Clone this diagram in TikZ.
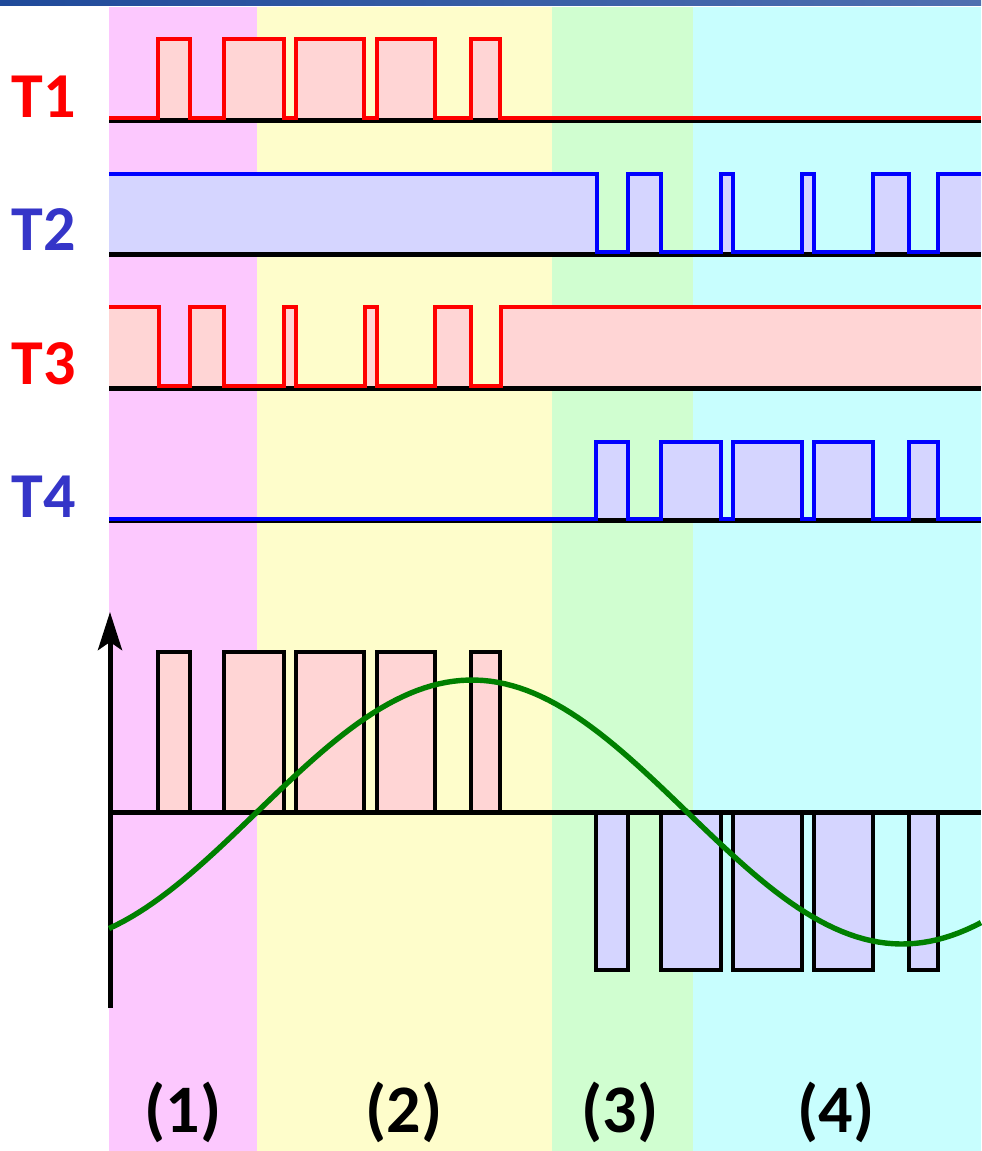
\documentclass[tikz,border=0pt]{standalone}
\usepackage{fontspec}
\setmainfont{Carlito}
\usepackage{amsmath}
\usetikzlibrary{arrows.meta}

\definecolor{barleft}{HTML}{1F4A9A}
\definecolor{barright}{HTML}{5070B0}
\definecolor{bandone}{HTML}{FCC8FE}
\definecolor{bandtwo}{HTML}{FEFDCB}
\definecolor{bandthree}{HTML}{D0FED0}
\definecolor{bandfour}{HTML}{C8FEFE}
\definecolor{pulsered}{HTML}{FFD5D5}
\definecolor{pulseblue}{HTML}{D5D5FF}
\definecolor{labelblue}{HTML}{3535C8}
\definecolor{wavegreen}{HTML}{008000}

\begin{document}
\begin{tikzpicture}[x=0.5pt,y=-0.5pt,
    zeroline/.style={line width=2.5pt,black},
    trace/.style={line width=2.1pt},
    tlabel/.style={font=\bfseries\fontsize{32}{32}\selectfont},
    seglabel/.style={font=\bfseries\fontsize{34}{34}\selectfont,text=black}]
        \useasboundingbox (0,0) rectangle (981,1151);
        \shade[left color=barleft,right color=barright] (0,0) rectangle (981,5); % title bar
        \fill[bandone] (109,7) rectangle (257,1151); % interval (1)
        \fill[bandtwo] (257,7) rectangle (552,1151); % interval (2)
        \fill[bandthree] (552,7) rectangle (693,1151); % interval (3)
        \fill[bandfour] (693,7) rectangle (981,1151); % interval (4)

        % T1
        \fill[pulsered] (158,39) rectangle (190,119) (224,39) rectangle (284,119)
        (296,39) rectangle (364,119) (377,39) rectangle (435,119) (471,39) rectangle (500,119);
        \draw[zeroline] (109,120) -- (981,120);
        \draw[trace,red] (109,118) -| (158,39) -| (190,118) -| (224,39) -| (284,118)
        -| (296,39) -| (364,118) -| (377,39) -| (435,118) -| (471,39) -| (500,118) -- (981,118);
        \node[tlabel,text=red] (labT1) at (44,97) {T1};

        % T2
        \fill[pulseblue] (109,174) rectangle (597,253) (628,174) rectangle (661,253)
        (721,174) rectangle (733,253) (802,174) rectangle (814,253)
        (873,174) rectangle (909,253) (938,174) rectangle (981,253);
        \draw[zeroline] (109,254) -- (981,254);
        \draw[trace,blue] (109,174) -| (597,252) -| (628,174) -| (661,252) -| (721,174)
        -| (733,252) -| (802,174) -| (814,252) -| (873,174) -| (909,252) -| (938,174) -- (981,174);
        \node[tlabel,text=labelblue] (labT2) at (44,230) {T2};

        % T3
        \fill[pulsered] (109,307) rectangle (159,387) (190,307) rectangle (224,387)
        (284,307) rectangle (296,387) (365,307) rectangle (377,387)
        (435,307) rectangle (471,387) (501,307) rectangle (981,387);
        \draw[zeroline] (109,388) -- (981,388);
        \draw[trace,red] (109,307) -| (159,386) -| (190,307) -| (224,386) -| (284,307)
        -| (296,386) -| (365,307) -| (377,386) -| (435,307) -| (471,386) -| (501,307) -- (981,307);
        \node[tlabel,text=red] (labT3) at (44,364) {T3};

        % T4
        \fill[pulseblue] (596,442) rectangle (628,520) (661,442) rectangle (721,520)
        (733,442) rectangle (802,520) (814,442) rectangle (873,520) (909,442) rectangle (938,520);
        \draw[zeroline] (109,520.5) -- (981,520.5);
        \draw[trace,blue] (109,519) -| (596,442) -| (628,519) -| (661,442) -| (721,519)
        -| (733,442) -| (802,519) -| (814,442) -| (873,519) -| (909,442) -| (938,519) -- (981,519);
        \node[tlabel,text=labelblue] (labT4) at (44,497) {T4};

        % output voltage
        \draw[line width=2pt,fill=pulsered] (158,652) rectangle (190,812)
        (224,652) rectangle (284,812) (296,652) rectangle (364,812)
        (377,652) rectangle (435,812) (471,652) rectangle (500,812); % positive pulses
        \draw[line width=2pt,fill=pulseblue] (596,812) rectangle (628,970)
        (661,812) rectangle (721,970) (733,812) rectangle (802,970)
        (814,812) rectangle (873,970) (909,812) rectangle (938,970); % negative pulses
        \draw[zeroline] (109,812) -- (981,812); % time axis
        \draw[zeroline,-{Stealth[length=19pt,width=12pt,inset=4pt]}] (110,1008) -- (110,612); % voltage axis
        \draw[wavegreen,line width=2.7pt] plot[domain=109:981,samples=120]
        (\x,{812-132*sin((\x-257)/860*360)}); % fundamental

        \node[seglabel] (seg1) at (183,1112) {(1)};
        \node[seglabel] (seg2) at (404,1112) {(2)};
        \node[seglabel] (seg3) at (620,1112) {(3)};
        \node[seglabel] (seg4) at (836,1112) {(4)};
    \end{tikzpicture}
\end{document}
